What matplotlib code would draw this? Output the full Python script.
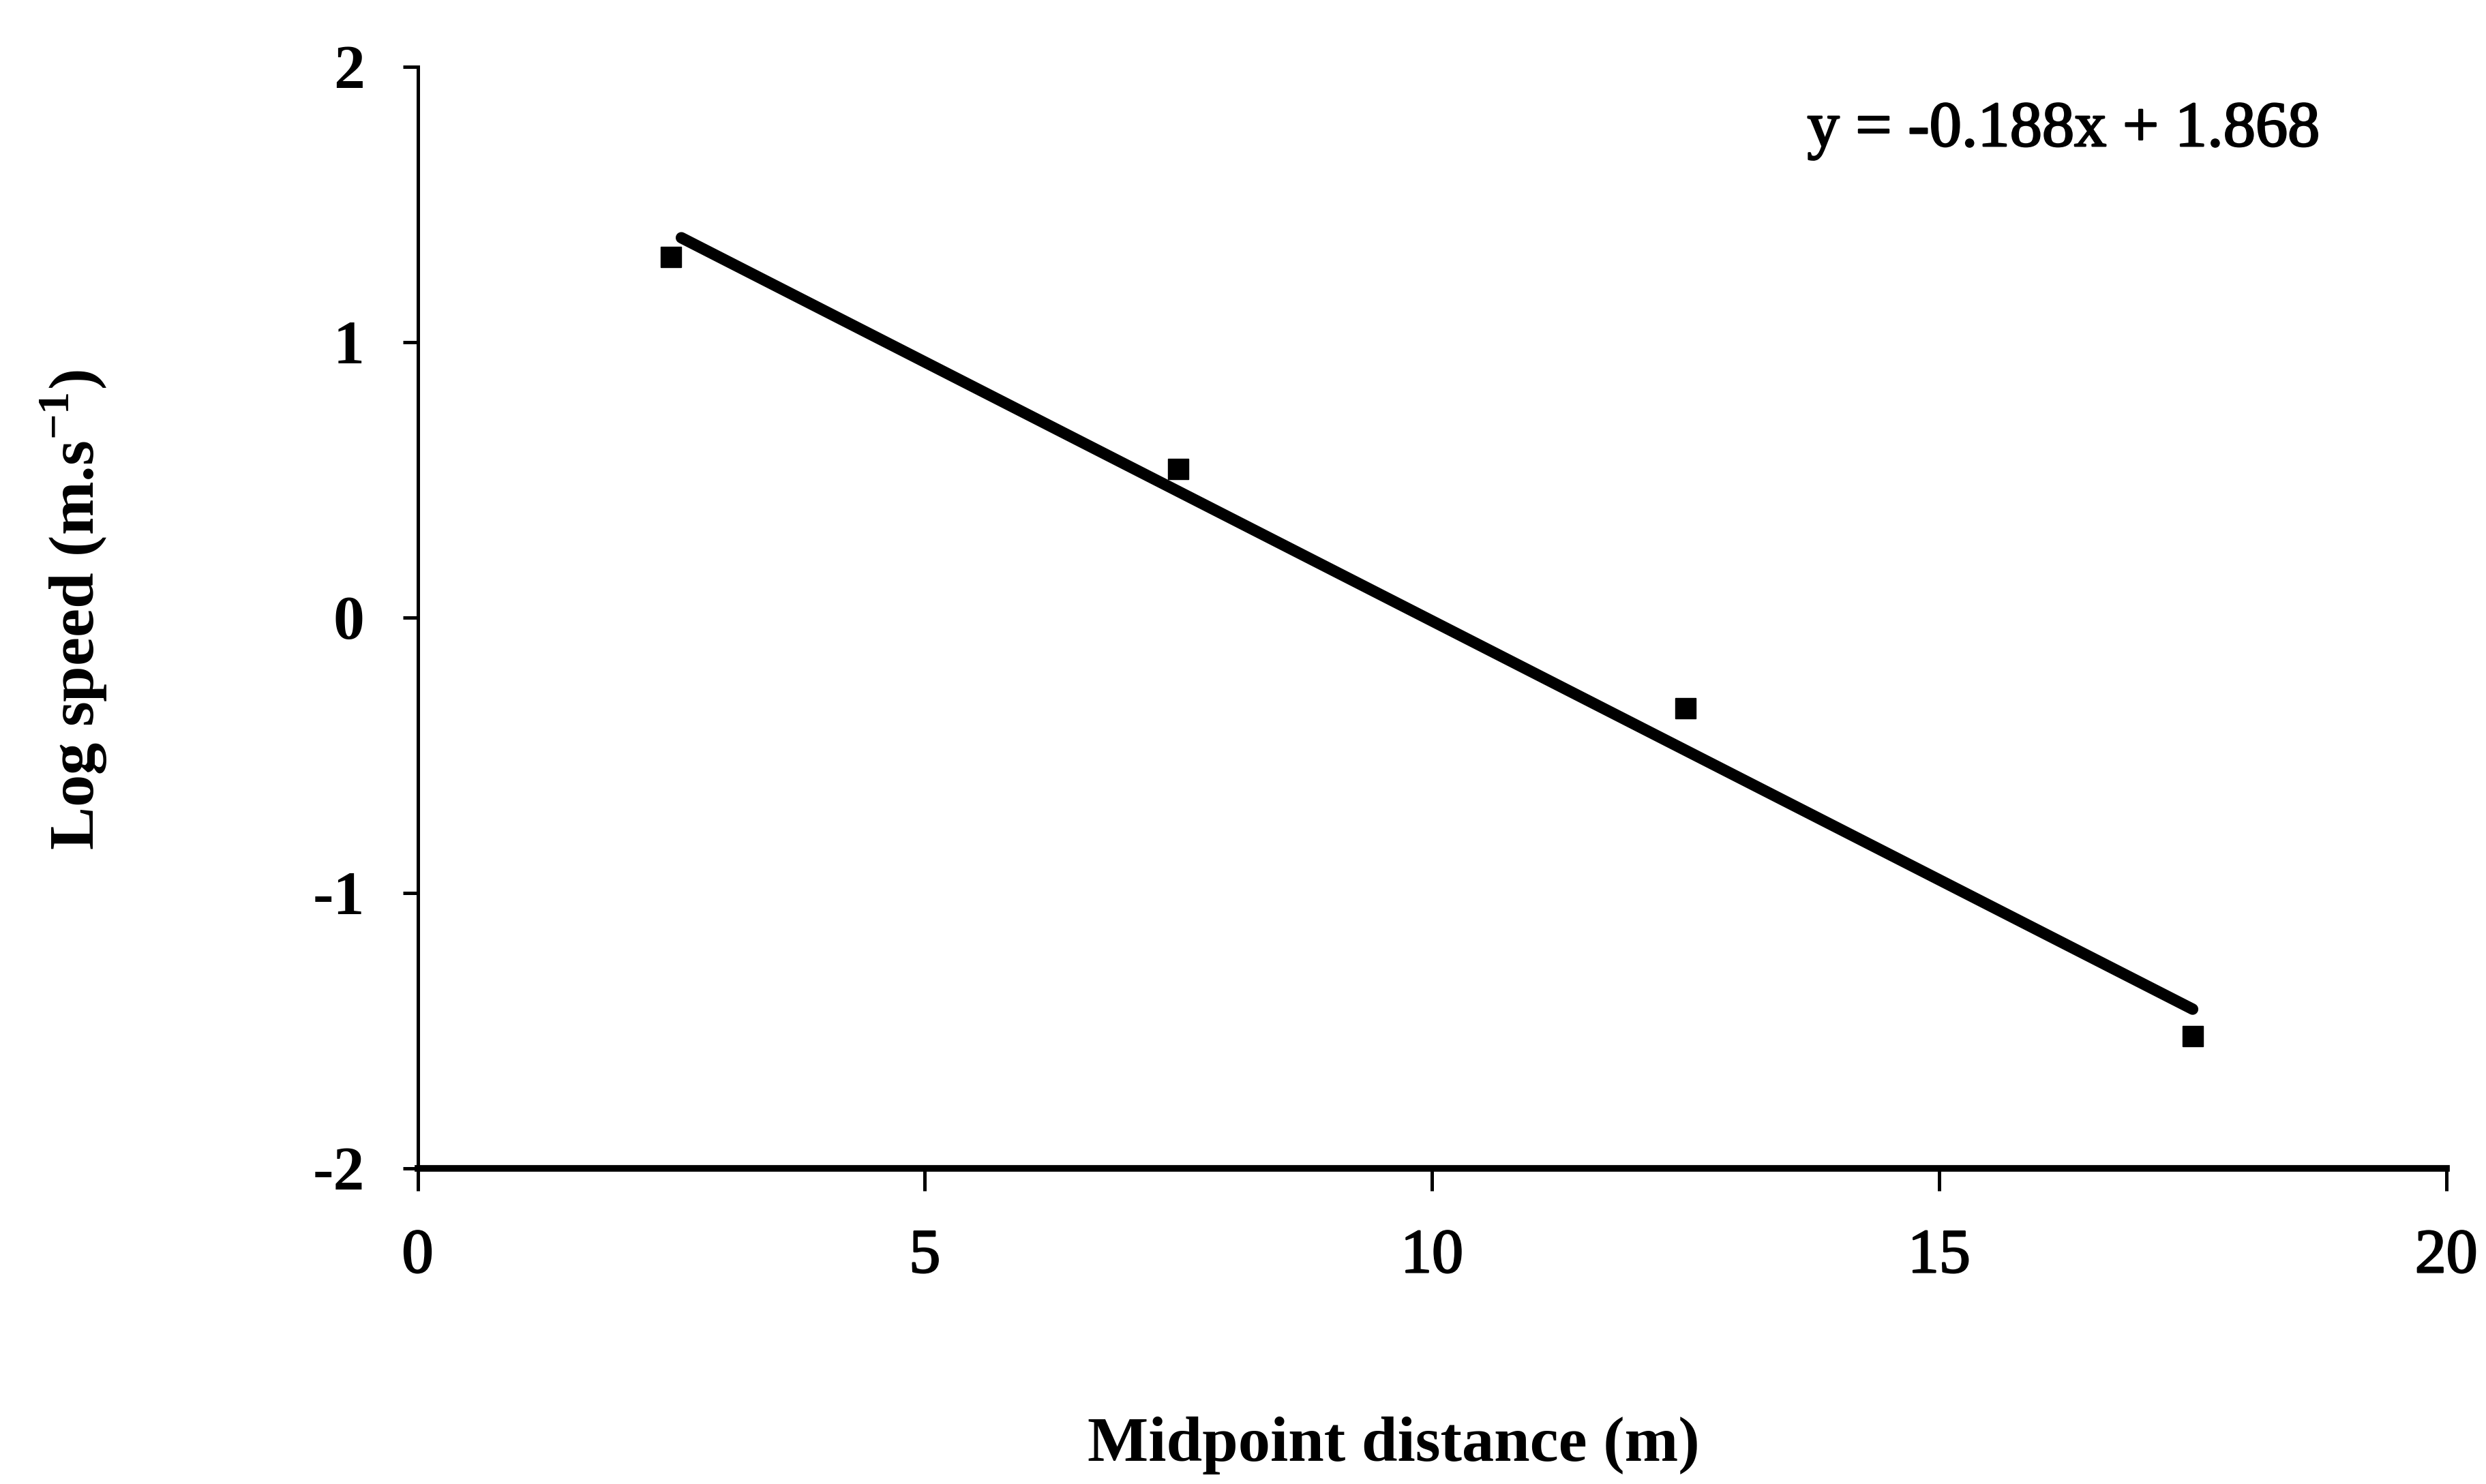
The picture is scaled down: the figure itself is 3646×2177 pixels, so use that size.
import numpy as np
import matplotlib
matplotlib.use("Agg")
import matplotlib.pyplot as plt
import matplotlib.patheffects as pe

plt.rcParams['font.family'] = ['Liberation Serif', 'DejaVu Serif']
plt.rcParams['mathtext.fontset'] = 'custom'
plt.rcParams['mathtext.rm'] = 'Liberation Serif:bold'
plt.rcParams['mathtext.bf'] = 'Liberation Serif:bold'

# midpoint of each distance interval and log of the measured speed
midpoint = [2.5, 7.5, 12.5, 17.5]
log_speed = [1.31, 0.54, -0.33, -1.52]

# fitted trend line
slope = -0.188
intercept = 1.868

xticks = [0, 5, 10, 15, 20]
yticks = [-2, -1, 0, 1, 2]

heavy = [pe.withStroke(linewidth=1.8, foreground='black')]

fig = plt.figure(figsize=(36.46, 21.77), dpi=100)
ax = fig.add_axes([0.168, 0.2127, 0.816, 0.7423])

ax.plot(midpoint, log_speed, 's', color='black', markersize=22)
fit_x = np.array([2.6, 17.5])
ax.plot(fit_x, slope * fit_x + intercept, color='black', lw=12,
        solid_capstyle='round')

ax.set_xlim(0, 20)
ax.set_ylim(-2, 2)
ax.set_xticks(xticks)
ax.set_yticks(yticks)
ax.set_xticklabels([str(v) for v in xticks], fontsize=66)
ax.set_yticklabels([str(v) for v in yticks], fontsize=66, fontweight='bold')
for lab in ax.get_xticklabels():
    lab.set_path_effects(heavy)

for side in ['top', 'right']:
    ax.spines[side].set_visible(False)
ax.spines['bottom'].set_linewidth(7)
ax.spines['left'].set_linewidth(3.6)
ax.tick_params(axis='x', direction='out', length=24, width=3.6, pad=40)
ax.tick_params(axis='y', direction='out', length=16, width=3.6, pad=40)

ax.set_xlabel('Midpoint distance (m)', fontsize=68, fontweight='bold')
ax.xaxis.set_label_coords(0.481, -0.225)
ax.set_ylabel(r'Log speed (m.s$^{-1}$)', fontsize=68, fontweight='bold')
ax.yaxis.set_label_coords(-0.152, 0.507)

ax.text(0.685, 0.942, f'y = {slope}x + {intercept}', transform=ax.transAxes,
        fontsize=68, va='center', ha='left', path_effects=heavy)

fig.savefig('out.png', dpi=100, facecolor='white')
